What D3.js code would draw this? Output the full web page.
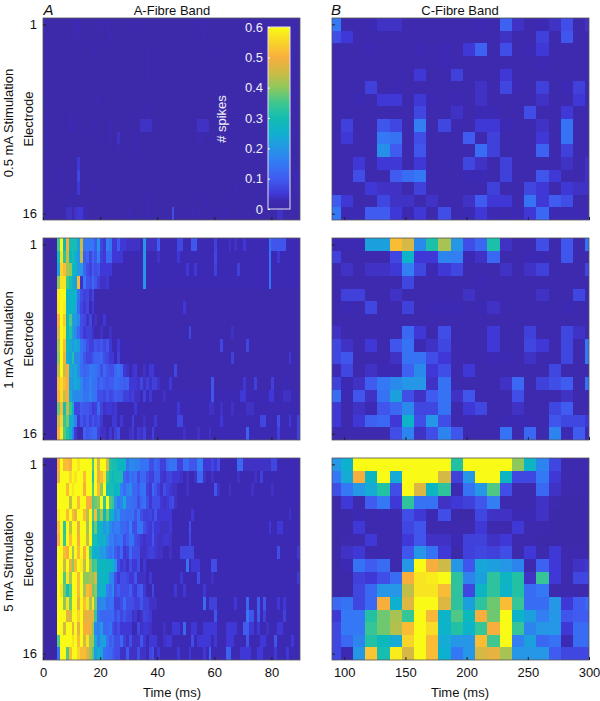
<!DOCTYPE html>
<html>
<head>
<meta charset="utf-8">
<script src="https://cdn.jsdelivr.net/npm/d3@7"></script>
<style>
body { margin: 0; background: #fff; }
text { font-family: "Liberation Sans", Arial, sans-serif; fill: #111; }
</style>
</head>
<body>
<div id="chart"></div>
<script>
// all values in hundredths of a spike, rows are electrodes 1-16
const aFibre05 = [
[1,1,1,1,1,1,1,1,1,1,1,3,3,1,1,1,1,1,1,2,2,1,2,1,1,1,1,1,1,1,1,1,1,1,2,1,1,1,1,1,1,1,1,1,1,1,1,1,1,1,1,1,1,1,2,2,2,1,1,1,1,1,1,1,1,1,1,1,1,1,1,1,1,1,1,1,1,1,1,1,1,1,1,1,1,1,1,1,1,1],
[1,1,1,1,1,1,1,1,1,1,1,2,2,1,1,1,1,1,1,1,1,1,1,3,1,1,1,1,1,1,1,1,1,1,1,1,1,1,1,1,1,1,1,1,1,1,1,1,1,1,1,1,1,1,1,1,2,1,1,1,1,1,1,1,1,1,1,1,1,1,1,1,1,1,1,1,1,1,1,1,1,1,1,1,1,1,1,1,1,1],
[1,1,1,1,1,1,1,1,1,1,1,1,1,1,1,1,1,1,3,1,1,1,1,1,1,1,1,1,1,1,1,1,1,1,1,1,2,1,1,1,1,1,1,1,1,1,1,1,1,1,1,1,1,1,1,1,1,1,1,1,1,2,1,1,1,1,1,1,1,1,1,1,1,1,1,1,1,1,1,1,1,1,1,1,1,1,1,1,1,1],
[1,1,1,1,1,1,1,1,1,1,1,1,1,1,1,1,1,1,1,1,1,1,1,1,1,1,1,1,1,1,1,1,1,1,1,1,2,1,1,1,1,1,1,1,1,1,1,1,1,1,1,1,1,1,1,1,1,1,1,1,1,1,1,1,1,1,1,1,1,1,1,1,1,1,1,1,1,1,1,1,1,1,1,1,1,1,1,1,1,1],
[1,1,1,1,1,1,1,1,1,1,1,1,1,1,1,1,1,1,1,1,1,1,1,1,1,1,1,1,1,1,1,1,1,1,1,1,2,1,1,1,1,1,1,1,1,1,1,1,1,1,1,1,1,1,1,1,1,1,1,1,1,1,1,1,1,1,1,1,1,1,1,1,1,1,1,1,1,1,1,1,1,1,1,1,1,1,1,1,1,1],
[1,1,1,1,1,1,1,1,1,1,1,1,1,1,1,1,1,1,1,1,1,1,1,1,1,1,1,1,1,1,1,1,1,1,1,1,1,1,1,1,1,1,1,1,1,1,1,1,1,1,1,1,1,1,1,1,1,1,1,1,1,1,1,1,1,1,1,1,1,1,1,1,1,1,1,1,1,1,1,1,1,1,1,1,1,1,1,1,1,1],
[1,1,1,1,1,1,1,1,1,1,1,1,1,1,1,1,1,1,2,2,1,1,1,1,1,1,1,1,1,1,1,1,1,1,1,1,1,1,1,1,1,1,1,1,1,1,1,1,1,1,1,1,1,1,1,1,1,1,1,1,1,1,1,1,1,1,1,1,1,1,1,1,1,1,1,1,1,1,1,1,1,1,1,1,1,1,1,1,1,1],
[1,1,1,1,1,1,1,1,1,2,1,1,1,1,1,1,1,1,2,1,1,1,1,1,1,1,1,1,1,1,1,1,1,1,1,1,3,1,1,1,1,1,1,1,1,1,1,1,1,1,1,1,1,1,1,1,1,1,1,1,1,1,1,1,1,1,1,1,1,1,1,1,1,1,1,1,1,1,1,1,1,1,1,1,1,1,1,1,1,1],
[1,1,1,1,1,1,1,1,1,3,3,1,1,1,1,1,1,1,3,1,1,1,1,3,1,1,1,1,1,1,1,1,1,1,4,4,4,4,1,1,1,1,1,1,1,1,1,1,1,1,1,1,1,1,4,4,4,4,1,1,1,1,1,1,1,1,1,1,1,1,1,1,1,1,1,1,1,1,1,1,1,1,1,1,1,1,1,1,1,1],
[1,1,1,1,1,1,1,1,1,1,1,1,1,1,1,1,1,1,1,1,1,1,1,2,1,1,4,1,1,1,1,1,3,1,1,1,1,1,1,1,1,1,1,1,1,1,1,1,1,1,1,1,1,1,2,2,1,1,1,1,1,1,1,1,1,1,1,1,1,1,1,1,1,1,1,1,1,1,1,1,1,1,1,1,1,1,1,1,1,1],
[1,1,1,1,1,1,1,1,1,1,1,1,1,1,1,1,1,1,1,1,1,1,1,1,1,1,2,1,1,1,1,1,3,1,1,1,1,1,1,1,1,1,1,1,1,1,1,1,1,1,1,1,1,1,1,1,1,1,1,1,1,1,1,1,1,1,1,1,1,1,1,1,1,1,1,1,1,1,1,1,1,1,1,1,1,1,1,1,1,1],
[1,1,1,1,1,1,1,1,1,1,1,1,5,1,1,1,1,1,1,1,1,1,1,1,1,1,1,1,1,1,1,1,1,1,1,1,1,1,1,1,1,1,1,1,1,1,1,1,1,1,1,1,1,1,1,1,1,1,1,1,1,1,1,1,1,1,1,1,1,1,1,1,1,1,1,1,1,1,1,1,1,1,1,1,1,1,1,1,1,1],
[1,1,1,1,1,1,3,1,1,1,1,1,7,1,1,1,1,1,1,1,1,1,1,1,1,1,1,1,1,1,1,1,1,1,1,1,1,1,1,1,1,1,1,1,1,1,1,1,1,1,1,1,1,1,1,1,1,1,1,1,1,1,1,1,1,1,1,1,1,1,1,1,1,1,1,1,1,1,1,1,1,1,1,1,1,1,1,1,3,3],
[1,1,1,1,1,1,2,1,1,1,1,1,5,1,1,1,1,1,3,1,1,1,1,1,1,1,1,1,1,1,1,1,1,1,1,1,1,1,1,1,1,1,1,1,1,1,1,1,1,1,1,1,1,1,1,1,1,1,1,1,1,1,1,1,1,1,1,3,1,1,1,1,1,1,1,1,1,1,1,1,1,1,1,1,1,1,1,1,2,2],
[1,1,1,1,1,1,1,1,1,3,1,1,1,1,1,1,1,1,1,1,1,1,1,1,1,1,1,1,1,1,1,1,1,1,1,1,3,1,1,1,1,1,1,1,1,1,1,1,1,1,1,1,1,1,1,1,1,3,1,1,1,1,1,1,1,1,1,1,1,1,1,1,1,1,1,1,1,1,1,1,1,1,1,1,1,1,1,1,1,1],
[1,1,1,1,1,1,1,1,4,4,2,4,5,5,3,2,1,1,1,1,1,1,1,1,1,1,1,1,1,2,3,1,1,1,1,1,3,1,1,1,1,1,1,1,1,8,1,1,1,1,1,1,3,1,2,1,1,1,1,1,1,1,1,3,1,1,1,1,1,1,1,1,1,1,1,1,1,1,1,1,1,1,4,4,1,1,1,1,1,1]
];

const aFibre1 = [
[0,0,0,0,0,35,60,27,50,30,30,30,22,45,15,15,15,15,10,20,7,5,17,14,5,5,10,5,5,4,4,4,4,4,3,20,4,4,4,4,10,3,3,3,3,3,3,7,7,3,3,3,9,9,3,3,3,3,3,3,6,3,3,3,3,4,3,4,3,3,5,3,3,3,3,3,3,3,3,14,9,9,9,9,9,3,3,3,3,3],
[0,0,0,0,0,28,57,33,45,28,30,25,20,43,10,12,7,12,9,16,6,5,12,12,5,5,5,5,3,3,3,3,3,3,3,20,3,3,3,3,4,3,3,3,3,3,3,5,3,3,3,3,3,3,3,3,3,3,3,3,7,3,3,3,3,3,3,3,3,3,3,3,3,3,3,3,3,3,3,14,3,3,5,3,3,3,3,3,3,3],
[0,0,0,0,0,22,55,52,42,40,28,27,20,20,12,8,6,10,8,9,5,5,5,5,3,3,3,3,3,3,3,3,3,3,3,20,3,3,3,3,3,3,3,3,3,3,3,3,3,3,5,3,3,5,3,3,3,3,3,3,6,3,3,3,3,3,3,3,6,3,3,3,3,3,3,3,3,3,3,14,3,3,3,3,3,3,3,3,3,3],
[0,0,0,0,0,40,57,57,34,30,25,22,52,4,15,9,8,12,9,6,4,4,5,3,3,3,3,3,3,3,3,3,3,3,3,20,3,3,3,3,3,3,3,3,3,3,3,3,3,3,3,3,3,3,3,3,3,3,3,3,3,3,3,3,3,3,3,3,3,3,3,3,3,3,3,3,3,3,3,14,3,3,3,3,3,3,3,3,3,3],
[0,0,0,0,0,58,60,60,27,26,26,26,14,8,6,7,4,7,2,2,2,2,2,2,2,2,2,2,2,2,2,2,2,2,2,2,2,2,2,2,2,2,2,2,2,2,2,2,2,2,2,2,2,2,2,2,2,2,2,2,2,2,2,2,2,2,2,2,2,2,2,2,2,2,2,2,2,2,2,2,2,2,2,2,2,2,2,2,2,2],
[0,0,0,0,0,57,60,58,26,27,26,24,12,7,5,7,3,5,3,2,2,2,2,2,2,2,2,2,2,2,2,2,2,2,2,2,2,2,2,2,2,2,2,2,2,2,2,2,2,5,2,2,2,2,2,2,2,2,2,2,2,2,2,2,2,2,2,2,2,2,2,2,2,2,2,2,2,2,2,2,2,2,2,2,2,2,2,2,2,2],
[0,0,0,0,0,50,60,54,28,36,22,20,18,8,7,4,7,2,4,2,2,5,3,2,3,2,2,2,2,2,2,2,2,2,2,2,2,2,2,2,2,2,2,2,2,2,2,2,2,2,2,2,2,2,2,2,2,2,2,2,2,2,2,2,2,2,2,2,2,2,2,2,2,2,2,2,2,2,2,2,2,2,2,2,2,2,2,2,2,2],
[0,0,0,0,0,46,60,57,27,32,22,18,12,8,5,6,6,4,3,2,4,2,3,4,2,2,2,2,2,2,2,2,2,2,2,2,2,2,2,2,2,2,2,2,2,2,2,2,2,2,2,7,2,2,2,2,2,2,2,2,2,2,2,2,2,2,4,2,2,2,2,2,2,2,2,2,2,2,2,2,2,2,3,2,2,2,2,2,2,2],
[0,0,0,0,0,42,60,52,28,24,20,24,22,14,12,8,6,6,9,8,9,7,9,5,3,3,5,3,3,3,3,2,3,2,2,3,2,3,2,2,2,2,2,2,2,2,2,2,2,2,2,2,2,2,2,2,2,2,2,2,2,2,7,2,2,2,2,2,2,2,2,7,2,2,2,2,3,2,2,2,2,2,2,2,2,2,2,2,2,2],
[0,0,0,0,0,40,60,50,26,22,32,18,18,14,9,7,7,9,11,11,12,8,7,5,5,3,6,3,3,3,3,2,3,2,2,3,2,3,2,2,2,2,2,2,2,2,2,2,2,2,2,2,2,2,2,2,2,2,2,2,2,2,2,2,2,2,6,2,2,2,2,2,2,2,2,2,2,2,2,2,2,2,2,2,2,2,5,2,2,2],
[0,0,0,0,0,44,60,45,50,24,22,24,18,13,11,12,15,15,14,12,8,12,9,8,8,12,14,12,5,4,3,4,5,2,2,4,3,5,5,3,3,2,2,2,2,2,7,2,2,2,2,2,2,2,2,2,2,2,2,2,2,2,2,2,2,2,2,2,2,2,2,2,2,2,2,2,2,2,2,2,2,2,2,2,2,2,2,2,2,2],
[0,0,0,0,0,52,56,52,50,22,20,24,22,18,13,14,16,14,14,10,12,10,9,10,10,13,12,11,10,11,5,5,5,4,7,4,6,4,6,6,4,3,3,3,5,2,2,2,2,2,2,2,2,2,2,2,2,2,2,9,2,2,2,2,2,2,2,2,2,2,5,3,2,2,6,2,2,2,2,2,6,2,2,2,2,3,2,2,2,2],
[0,0,0,0,0,50,56,45,50,24,19,18,18,17,14,14,17,14,14,8,8,7,9,7,8,10,9,9,6,6,5,6,4,4,3,6,3,5,3,3,3,3,4,3,3,3,3,3,3,3,3,3,3,3,3,3,3,3,3,9,3,3,3,3,3,3,3,3,3,5,5,3,3,3,3,3,3,3,3,5,5,3,3,3,4,4,4,3,3,3],
[0,0,0,0,0,38,52,30,44,34,25,7,7,10,9,9,8,5,6,12,6,4,5,5,4,5,3,3,3,3,3,3,5,3,3,3,3,3,3,3,3,3,3,3,3,3,3,5,3,3,3,3,3,3,3,3,3,3,4,4,3,3,4,3,3,3,4,3,3,3,3,4,4,4,3,3,3,3,3,3,3,3,3,3,3,3,3,3,3,3],
[0,0,0,0,0,45,55,34,38,24,24,17,5,9,7,9,6,9,7,8,5,3,3,3,5,5,3,5,3,3,3,6,3,3,3,4,3,3,3,5,3,3,3,3,3,3,3,7,7,3,3,3,3,3,3,3,3,3,3,3,3,3,5,3,3,3,3,3,3,3,3,3,3,3,3,3,7,7,3,3,3,3,8,3,3,3,5,3,3,6],
[0,0,0,0,0,50,58,36,32,26,16,5,2,2,11,9,10,12,12,6,4,4,3,5,2,6,8,2,3,3,4,5,2,5,4,6,3,3,6,3,3,3,3,3,3,3,3,3,3,4,3,3,3,3,4,3,3,3,4,3,3,3,3,3,3,3,3,3,3,3,3,11,3,3,3,3,3,3,3,3,3,3,6,3,3,3,3,3,3,6]
];

const aFibre5 = [
[0,0,0,0,0,50,60,52,52,50,60,60,57,60,60,60,60,36,60,46,60,60,46,32,30,30,27,27,27,14,18,18,17,16,14,14,14,8,8,12,10,6,6,12,14,14,14,6,6,13,13,9,9,9,16,16,5,5,5,7,5,8,3,3,3,3,3,3,12,12,4,4,4,4,4,4,4,4,4,4,7,7,3,3,3,3,3,3,3,3],
[0,0,0,0,0,48,60,60,60,55,60,57,60,60,52,60,60,32,60,48,52,57,35,30,28,30,30,30,12,10,14,12,14,8,12,12,8,6,6,10,10,5,4,6,7,5,5,5,4,3,4,3,3,4,12,12,4,3,3,4,3,3,3,3,3,3,3,3,4,3,3,3,3,3,4,3,6,3,3,3,3,3,3,3,3,3,3,3,3,3],
[0,0,0,0,0,60,60,60,52,60,57,60,60,60,50,60,60,36,60,52,40,60,30,30,30,26,28,16,13,16,18,12,12,10,14,14,6,5,12,9,6,4,8,6,5,4,4,3,3,3,4,3,3,3,3,3,3,3,3,3,9,4,3,3,3,4,3,3,3,3,3,3,3,4,3,3,3,3,3,3,4,3,3,3,3,3,3,3,3,3],
[0,0,0,0,0,60,60,60,60,44,60,60,52,60,60,50,50,36,38,40,60,34,60,36,34,20,15,17,24,14,14,13,13,8,12,14,8,5,8,8,8,5,4,5,7,8,4,3,3,3,3,3,3,3,3,3,3,3,3,3,3,3,3,3,3,3,3,3,3,3,3,3,3,3,3,3,3,3,3,3,3,3,3,3,3,3,3,3,3,3],
[0,0,0,0,0,57,60,60,52,60,52,48,60,60,52,44,60,36,52,34,42,28,38,27,25,18,20,14,14,13,13,14,9,14,8,6,6,7,5,9,5,5,5,5,5,3,3,3,3,3,3,3,5,3,3,3,3,3,3,3,3,3,3,3,3,3,3,3,3,3,3,3,3,3,3,3,3,3,3,3,3,3,3,3,3,3,4,3,3,3],
[0,0,0,0,0,52,60,33,60,44,60,60,48,60,60,42,60,30,38,26,27,20,24,18,14,16,16,12,12,10,16,8,8,14,14,8,6,5,8,5,5,4,4,4,5,3,3,3,3,3,3,8,3,3,3,3,3,3,3,3,3,3,3,3,3,3,3,3,3,3,3,3,3,3,3,3,3,3,3,5,3,3,5,5,3,3,3,3,3,3],
[0,0,0,0,0,50,60,34,60,52,60,60,50,60,60,44,60,30,30,26,24,27,20,16,16,12,14,14,8,10,14,14,8,7,5,4,5,5,9,5,4,4,5,5,4,3,3,3,3,3,3,7,3,3,3,3,3,3,3,3,3,3,3,3,3,3,3,3,3,3,3,3,3,3,3,3,3,3,3,3,3,3,3,3,3,3,3,3,3,3],
[0,0,0,0,0,60,60,52,50,60,42,60,52,60,50,60,36,26,25,24,20,22,16,14,16,10,8,12,5,6,12,8,8,8,4,4,5,6,6,5,4,4,3,3,4,3,3,3,7,7,7,7,7,3,3,3,3,3,3,3,3,3,3,3,3,3,3,3,3,3,3,3,3,3,3,3,3,3,3,3,3,3,8,3,3,3,3,3,3,5],
[0,0,0,0,0,60,60,44,60,48,40,52,60,58,44,60,42,34,36,28,27,28,27,27,25,20,8,5,6,4,8,5,5,8,3,5,3,3,3,3,3,3,3,3,3,3,3,3,3,3,14,3,5,5,5,3,3,3,3,8,8,3,3,3,3,3,3,3,3,3,3,3,3,3,3,3,3,3,3,3,3,3,3,3,3,3,3,3,3,3],
[0,0,0,0,0,60,60,36,57,42,60,60,52,60,40,40,42,40,46,27,27,27,27,18,17,8,5,8,8,7,5,5,9,4,4,4,3,5,3,3,3,3,3,3,3,3,3,3,5,3,3,3,3,3,8,3,3,3,3,4,3,3,3,3,3,3,3,3,3,3,3,3,3,3,3,3,3,3,3,3,3,3,3,3,3,3,3,3,3,5],
[0,0,0,0,0,60,57,38,30,36,60,60,52,60,42,52,50,38,40,24,26,26,16,14,18,8,10,8,8,8,10,6,5,9,10,5,3,3,7,3,3,3,3,3,3,3,5,3,3,5,3,3,3,3,3,3,5,3,3,3,3,3,3,3,3,3,3,3,3,3,3,3,3,3,3,3,3,3,3,3,3,3,3,3,3,3,3,3,3,3],
[0,0,0,0,0,60,60,40,57,38,60,60,48,60,52,57,42,57,38,16,18,18,13,14,14,6,6,8,13,8,8,8,6,6,9,6,6,4,4,4,3,3,3,3,3,3,3,3,3,3,3,3,3,3,3,3,13,3,6,6,6,3,3,3,3,3,3,5,3,3,3,12,3,3,3,10,3,9,3,3,3,3,5,3,5,3,3,3,3,3],
[0,0,0,0,0,60,60,60,48,46,60,60,55,60,48,48,48,48,34,14,12,12,12,12,13,8,10,7,9,7,7,4,5,3,4,7,6,5,3,3,3,3,3,3,3,3,3,3,3,3,3,3,3,3,3,3,3,3,3,3,9,3,3,3,3,3,3,3,3,3,3,15,9,9,3,10,3,6,3,3,3,3,3,3,6,3,3,3,3,3],
[0,0,0,0,0,60,60,46,60,60,48,60,48,60,50,50,48,40,18,16,20,12,12,14,8,6,8,5,5,5,5,3,3,7,4,5,5,4,3,3,3,3,4,3,3,5,5,5,3,12,3,3,5,5,3,3,5,5,5,5,5,3,3,3,5,5,5,5,3,3,10,10,5,5,3,5,3,3,4,3,3,3,5,5,3,3,3,3,3,3],
[0,0,0,0,0,36,60,60,60,60,57,60,52,60,46,57,42,42,26,16,22,22,14,10,12,8,8,12,6,4,8,4,4,4,9,5,3,5,5,5,3,3,4,5,5,3,3,3,3,3,3,3,8,3,5,5,5,5,5,3,5,3,3,3,5,5,5,3,3,3,3,9,3,3,3,3,5,5,3,3,3,9,3,3,3,3,3,5,3,3],
[0,0,0,0,0,14,60,60,36,52,60,60,55,52,52,47,42,36,20,26,22,14,13,12,10,8,8,4,4,10,4,4,4,8,4,4,3,7,8,3,5,3,3,3,3,3,3,5,3,3,3,5,3,3,3,3,5,3,11,3,3,3,3,3,11,11,3,3,3,5,5,5,5,3,3,5,5,3,3,3,3,5,3,3,3,5,3,3,3,3]
];

const cFibre05 = [
[15,2,2,3,4,4,2,2,2,2,2,2,3,2,11,4,2,3,4,8,2,4],
[8,5,2,2,2,2,2,2,2,2,2,2,2,2,4,2,2,6,2,9,2,2],
[2,2,2,3,2,2,2,3,2,3,2,5,11,2,8,2,3,5,2,2,2,2],
[2,2,2,2,2,2,2,2,2,3,2,2,2,2,2,2,2,3,2,2,2,2],
[2,2,2,2,2,2,2,5,2,2,6,2,2,2,5,2,2,2,2,2,2,2],
[2,2,2,6,2,3,2,2,2,2,2,2,4,2,7,3,2,6,2,3,6,2],
[2,2,3,2,5,5,2,5,3,2,3,2,4,2,2,2,2,4,2,2,5,2],
[2,2,2,2,2,2,2,7,2,2,4,2,3,3,2,2,8,2,2,5,2,2],
[2,6,2,2,9,7,2,16,2,7,2,2,5,5,3,2,2,4,2,14,2,2],
[2,5,2,2,15,14,2,8,2,2,2,10,2,6,2,2,2,5,2,14,2,2],
[2,2,2,2,19,10,2,9,2,2,2,2,13,6,2,2,2,11,2,6,2,2],
[2,2,5,2,5,5,2,5,2,2,2,7,4,2,6,2,2,2,2,4,2,4],
[2,2,8,2,2,10,13,15,2,2,2,3,3,2,6,2,2,9,5,2,2,4],
[2,2,2,5,4,4,2,6,2,2,2,2,2,6,2,2,7,5,2,5,4,4],
[10,5,2,2,7,4,4,2,4,2,2,4,10,5,5,2,14,5,10,8,2,2],
[15,3,3,10,10,5,3,5,2,8,2,3,5,3,2,3,5,12,3,3,3,3]
];

const cFibre1 = [
[3,3,3,22,22,52,46,18,31,42,20,8,12,31,4,2,2,8,2,9,2,14],
[6,2,2,2,2,7,26,5,5,17,16,3,4,12,2,2,3,3,2,9,2,2],
[2,4,2,4,4,5,16,7,3,5,7,2,2,2,4,2,4,6,2,2,2,7],
[2,2,2,2,2,2,7,2,2,2,2,2,3,2,2,2,2,2,2,2,2,2],
[2,6,6,2,2,4,2,2,2,2,2,4,2,2,2,2,2,4,2,2,7,2],
[2,3,2,7,2,2,6,2,3,3,3,2,3,4,2,2,2,2,2,3,2,2],
[2,2,2,2,2,2,2,2,2,2,2,2,2,2,2,2,2,2,2,2,2,2],
[4,2,2,2,2,2,12,5,2,8,2,2,2,5,2,2,6,2,2,7,4,2],
[7,4,2,5,2,9,14,3,4,7,2,2,2,5,2,2,7,5,2,7,2,15],
[7,9,2,2,2,4,14,14,8,5,2,2,2,3,3,2,4,2,2,7,2,15],
[3,7,2,4,3,3,11,18,5,8,2,5,2,2,2,2,2,2,7,2,2,2],
[6,3,4,10,15,18,20,20,4,14,2,2,2,2,4,12,2,6,8,10,2,14],
[13,3,9,4,14,22,8,4,10,14,4,9,2,2,2,8,2,2,2,4,2,2],
[5,2,4,3,9,12,18,7,7,14,2,5,7,2,2,4,2,2,7,10,2,2],
[5,2,5,11,12,5,26,8,20,8,2,3,2,2,3,3,3,2,9,7,7,5],
[2,2,2,2,2,8,17,4,8,17,9,2,2,2,14,2,12,2,17,3,10,3]
];

const cFibre5 = [
[20,25,60,60,60,60,60,60,60,60,32,60,60,60,60,40,27,17,7,2,2,3],
[15,24,50,27,60,24,60,60,60,46,6,20,60,60,27,7,7,15,5,2,2,2],
[8,15,20,24,32,8,60,47,27,33,3,14,20,36,8,2,2,12,4,2,2,2],
[1,5,2,10,15,5,33,14,14,4,5,6,9,16,2,2,2,4,2,1,1,3],
[1,1,3,2,3,2,8,5,3,8,1,1,7,4,4,3,3,4,1,1,1,1],
[1,1,5,2,2,2,7,9,2,2,2,2,5,2,2,5,2,2,1,1,1,1],
[1,2,2,5,2,2,5,9,4,4,3,6,6,4,5,2,2,1,1,1,1,1],
[1,4,5,2,2,2,9,20,14,5,1,6,7,6,8,2,5,2,5,2,2,1],
[1,3,14,10,13,2,20,60,50,45,20,9,23,22,20,17,2,11,5,2,4,5],
[1,1,6,5,8,13,50,57,58,60,33,17,22,33,27,32,4,34,5,2,7,7],
[1,1,7,12,20,20,44,57,57,52,33,7,27,33,26,32,13,15,2,2,2,2],
[12,14,7,12,50,25,47,60,60,47,33,22,33,38,52,34,13,13,20,5,10,12],
[5,15,15,32,38,42,34,60,51,26,36,28,50,38,60,26,22,16,20,9,10,10],
[7,15,15,34,38,43,52,60,56,26,32,26,34,50,60,34,17,20,20,5,13,13],
[7,12,17,32,28,24,55,60,52,24,20,20,52,35,60,16,22,12,14,3,13,13],
[7,3,20,53,30,58,46,60,52,25,15,20,46,48,42,20,20,20,10,7,7,7]
];

const aEdges = d3.range(91);
const cEdges = [90,97,107,117,127,137,147,157,167,177,187,197,207,217,227,237,247,257,267,277,287,297,300];
const aTicks = [0,20,40,60,80];
const cTicks = [100,150,200,250,300];
const electrodeTicks = [1,16];
const stimLabels = ["0.5 mA Stimulation","1 mA Stimulation","5 mA Stimulation"];
const barTicks = [0,0.1,0.2,0.3,0.4,0.5,0.6];
const colorVals = [0,0.03,0.05,0.1,0.15,0.2,0.25,0.3,0.35,0.4,0.45,0.5,0.55,0.6];
const colorHex = ["#3b28a5","#3d2cb4","#4038d6","#3f5cf0","#3478f5","#2596e6","#10b0cf","#12bdb0","#3fc78f","#8ec85c","#cdbb45","#f8ae3e","#f9d42a","#f9fb15"];

const svg = d3.select("#chart").append("svg").attr("width", 600).attr("height", 701);
const defs = svg.append("defs");

// the reference is a resampled bitmap so the cells are a little soft
defs.append("filter").attr("id", "soft")
    .attr("x", "-2%").attr("y", "-2%").attr("width", "104%").attr("height", "104%")
    .append("feGaussianBlur").attr("stdDeviation", 0.6);

const color = d3.scaleLinear().domain(colorVals).range(colorHex).clamp(true);

const panelTops = [18, 238, 458];
const panelH = 202;
const xA = d3.scaleLinear().domain([0, 90]).range([43, 300]);
const xC = d3.scaleLinear().domain([90, 300]).range([332, 589]);

let panelCount = 0;

function drawPanel(rows, edges, x, ticks, top, showX, showY) {
    let y = d3.scaleLinear().domain([0.5, 16.5]).range([top, top + panelH]);
    let clipId = "clip" + (panelCount++);
    defs.append("clipPath").attr("id", clipId).append("rect")
        .attr("x", x.range()[0]).attr("y", top)
        .attr("width", x.range()[1] - x.range()[0]).attr("height", panelH);

    let g = svg.append("g").attr("clip-path", "url(#" + clipId + ")")
        .append("g").attr("filter", "url(#soft)");

    rows.forEach((row, i) => {
        g.selectAll(null)
            .data(row)
            .enter().append("rect")
            .attr("x", (d, j) => x(edges[j]))
            .attr("width", (d, j) => x(edges[j + 1]) - x(edges[j]))
            .attr("y", y(i + 0.5))
            .attr("height", y(i + 1.5) - y(i + 0.5))
            .attr("fill", d => color(d / 100))
            .attr("shape-rendering", "crispEdges");
    });

    // box
    svg.append("rect")
        .attr("x", x.range()[0]).attr("y", top)
        .attr("width", x.range()[1] - x.range()[0]).attr("height", panelH)
        .attr("fill", "none").attr("stroke", "#555").attr("stroke-width", 0.8);

    // axes, ticks point inwards like matlab
    let xAxis = svg.append("g")
        .attr("transform", "translate(0," + (top + panelH) + ")")
        .call(d3.axisBottom(x).tickValues(ticks).tickSize(-3).tickPadding(8).tickFormat(showX ? d3.format("d") : ""));
    xAxis.select(".domain").remove();
    xAxis.selectAll("line").attr("stroke", "#222");
    xAxis.selectAll("text").attr("font-size", 13).style("font-family", '"Liberation Sans"');

    let yAxis = svg.append("g")
        .attr("transform", "translate(" + x.range()[0] + ",0)")
        .call(d3.axisLeft(y).tickValues(electrodeTicks).tickSize(-3).tickPadding(6).tickFormat(showY ? d3.format("d") : ""));
    yAxis.select(".domain").remove();
    yAxis.selectAll("line").attr("stroke", "#222");
    yAxis.selectAll("text").attr("font-size", 13).style("font-family", '"Liberation Sans"');
}

drawPanel(aFibre05, aEdges, xA, aTicks, panelTops[0], false, true);
drawPanel(aFibre1, aEdges, xA, aTicks, panelTops[1], false, true);
drawPanel(aFibre5, aEdges, xA, aTicks, panelTops[2], true, true);
drawPanel(cFibre05, cEdges, xC, cTicks, panelTops[0], false, false);
drawPanel(cFibre1, cEdges, xC, cTicks, panelTops[1], false, false);
drawPanel(cFibre5, cEdges, xC, cTicks, panelTops[2], true, false);

// titles and panel letters
function label(txt, x, y, opts) {
    opts = opts || {};
    let t = svg.append("text")
        .attr("font-size", opts.size || 13)
        .attr("text-anchor", opts.anchor || "middle")
        .attr("transform", "translate(" + x + "," + y + ")" + (opts.rotate ? " rotate(-90)" : ""))
        .text(txt);
    if (opts.italic) t.attr("font-style", "italic");
    if (opts.fill) t.style("fill", opts.fill);
}

label("A-Fibre Band", 172, 14.5);
label("C-Fibre Band", 460, 14.5);
label("A", 43.5, 14.5, { size: 15, anchor: "start", italic: true });
label("B", 331, 14.5, { size: 15, anchor: "start", italic: true });
label("Time (ms)", 172, 697);
label("Time (ms)", 460, 697);

const stimCentres = [123, 340, 563];
stimLabels.forEach((s, i) => {
    label(s, 13, stimCentres[i], { rotate: true });
    label("Electrode", 33, panelTops[i] + panelH / 2, { rotate: true });
});

// colorbar
let grad = defs.append("linearGradient")
    .attr("id", "bar").attr("x1", 0).attr("x2", 0).attr("y1", 1).attr("y2", 0);
colorVals.forEach((v, i) => {
    grad.append("stop").attr("offset", v / 0.6).attr("stop-color", colorHex[i]);
});
const yBar = d3.scaleLinear().domain([0, 0.6]).range([209, 27]);
svg.append("rect")
    .attr("x", 268).attr("y", yBar(0.6))
    .attr("width", 22).attr("height", yBar(0) - yBar(0.6))
    .attr("fill", "url(#bar)").attr("stroke", "#e4e0ee").attr("stroke-width", 1);
let barAxis = svg.append("g")
    .attr("transform", "translate(268,0)")
    .call(d3.axisLeft(yBar).tickValues(barTicks).tickSize(-2).tickPadding(5)
        .tickFormat(d => d === 0 ? "0" : d.toFixed(1)));
barAxis.select(".domain").remove();
barAxis.selectAll("line").attr("stroke", "#fff");
barAxis.selectAll("text").attr("font-size", 13).style("fill", "#f2f0f8").style("font-family", '"Liberation Sans"');
label("# spikes", 226, 119, { rotate: true, fill: "#f2f0f8" });
</script>
</body>
</html>
